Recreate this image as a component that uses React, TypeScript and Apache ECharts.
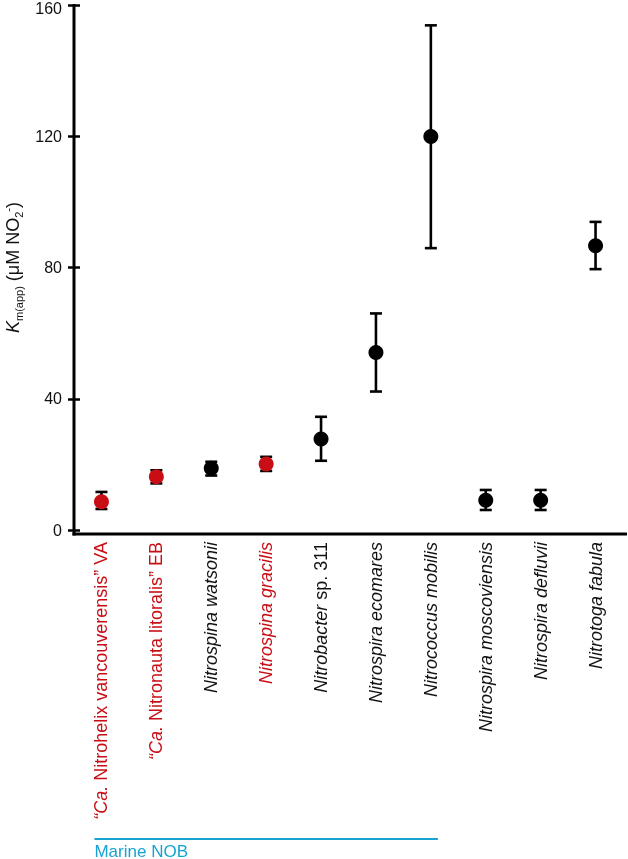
import React, { useEffect, useRef } from "react";
import * as echarts from "echarts";

const categories = [
  "Ca. Nitrohelix vancouverensis VA",
  "Ca. Nitronauta litoralis EB",
  "Nitrospina watsonii",
  "Nitrospina gracilis",
  "Nitrobacter sp. 311",
  "Nitrospira ecomares",
  "Nitrococcus mobilis",
  "Nitrospira moscoviensis",
  "Nitrospira defluvii",
  "Nitrotoga fabula",
];
// rich-text label pieces: [italic part, normal part]
const labelItalic = ["“Ca.", "“Ca.", "Nitrospina watsonii", "Nitrospina gracilis", "Nitrobacter", "Nitrospira ecomares", "Nitrococcus mobilis", "Nitrospira moscoviensis", "Nitrospira defluvii", "Nitrotoga fabula"];
const labelNormal = [" Nitrohelix vancouverensis” VA", " Nitronauta litoralis” EB", "", "", " sp. 311", "", "", "", "", ""];
const redLabel = [true, true, false, true, false, false, false, false, false, false];

const kmValues = [8.6, 16.2, 18.8, 20.1, 27.7, 54.1, 119.9, 9.1, 9.1, 86.6];
const kmLower = [6.4, 14.2, 16.6, 18.0, 21.1, 42.2, 85.9, 6.1, 6.1, 79.5];
const kmUpper = [11.6, 18.2, 20.8, 22.3, 34.5, 66.0, 153.8, 12.2, 12.2, 93.9];

const yTicks = [0, 40, 80, 120, 160];
const groupLabel = "Marine NOB";
const groupFrom = 0;
const groupTo = 6;

const RED = "#c80d14";
const BLUE = "#17a3d2";
const FONT = "'Liberation Sans', Arial, sans-serif";

export default function App() {
  const ref = useRef<HTMLDivElement>(null);
  useEffect(() => {
    if (!ref.current) return;
    const chart = echarts.init(ref.current, null, { renderer: "svg" });
    const gridLeft = 74;
    const gridTop = 5;
    const gridRight = 5;
    const gridBottom = 329;
    const yMax = yTicks[yTicks.length - 1];

    const option: any = {
      animation: false,
      grid: {
        left: gridLeft,
        right: gridRight,
        top: gridTop,
        bottom: gridBottom,
        containLabel: false,
        outerBoundsMode: "none",
      },
      xAxis: {
        type: "category",
        data: categories,
        boundaryGap: true,
        axisLine: { show: false },
        axisTick: { show: false },
        axisLabel: {
          interval: 0,
          rotate: 90,
          margin: 12,
          formatter: (_v: string, idx: number) => {
            const c = redLabel[idx] ? "r" : "b";
            let s = `{${c}i|${labelItalic[idx]}}`;
            if (labelNormal[idx]) s += `{${c}n|${labelNormal[idx]}}`;
            return s;
          },
          rich: {
            ri: { color: RED, fontStyle: "italic", fontSize: 18, fontFamily: FONT },
            rn: { color: RED, fontSize: 18, fontFamily: FONT },
            bi: { color: "#111", fontStyle: "italic", fontSize: 18, fontFamily: FONT },
            bn: { color: "#111", fontSize: 18, fontFamily: FONT },
          },
        },
      },
      yAxis: [
        {
          type: "value",
          min: yTicks[0],
          max: yMax,
          interval: 40,
          splitLine: { show: false },
          axisLine: { show: false },
          axisTick: { show: true, length: 6, lineStyle: { color: "#000", width: 2.5 } },
          axisLabel: {
            fontSize: 16,
            color: "#111",
            fontFamily: FONT,
            margin: 12,
            formatter: (v: number) => (v === yMax ? `{top|${v}}` : `{n|${v}}`),
            rich: {
              top: { fontSize: 16, color: "#111", fontFamily: FONT, padding: [7, 0, 0, 0] },
              n: { fontSize: 16, color: "#111", fontFamily: FONT },
            },
          },
          name: "{k|K}{sub|m(app)}{t| (μM NO}{sub2|2}{sup|-}{t|)}",
          nameLocation: "middle",
          nameRotate: 90,
          nameGap: 47,
          nameTextStyle: {
            fontFamily: FONT,
            color: "#111",
            rich: {
              k: { fontStyle: "italic", fontSize: 18, fontFamily: FONT, color: "#111", lineHeight: 22 },
              sub: { fontSize: 11, fontFamily: FONT, color: "#111", verticalAlign: "bottom", lineHeight: 12 },
              t: { fontSize: 18, fontFamily: FONT, color: "#111", lineHeight: 22 },
              sub2: { fontSize: 11, fontFamily: FONT, color: "#111", verticalAlign: "bottom", lineHeight: 12 },
              sup: { fontSize: 11, fontFamily: FONT, color: "#111", verticalAlign: "top", lineHeight: 12 },
            },
          },
        },
        {
          type: "value",
          position: "left",
          min: yTicks[0],
          max: yMax,
          interval: 40,
          splitLine: { show: false },
          axisLine: { show: false },
          axisTick: { show: true, inside: true, length: 6, lineStyle: { color: "#000", width: 2.5 } },
          axisLabel: { show: false },
        },
      ],
      series: [
        {
          type: "custom",
          z: 1,
          data: categories.map((_c, i) => [i, kmLower[i], kmUpper[i]]),
          renderItem: (_params: any, api: any) => {
            const x = api.value(0);
            const lo = api.coord([x, api.value(1)]);
            const hi = api.coord([x, api.value(2)]);
            const hw = 6;
            const st = { stroke: "#000", lineWidth: 2.6 };
            return {
              type: "group",
              children: [
                { type: "line", shape: { x1: hi[0], y1: hi[1], x2: lo[0], y2: lo[1] }, style: st },
                { type: "line", shape: { x1: hi[0] - hw, y1: hi[1], x2: hi[0] + hw, y2: hi[1] }, style: st },
                { type: "line", shape: { x1: lo[0] - hw, y1: lo[1], x2: lo[0] + hw, y2: lo[1] }, style: st },
              ],
            };
          },
        },
        {
          type: "scatter",
          z: 3,
          symbol: "circle",
          symbolSize: 15,
          data: kmValues.map((v, i) => ({
            value: [i, v],
            itemStyle: { color: redLabel[i] ? RED : "#000", opacity: 1 },
          })),
        },
      ],
    };
    chart.setOption(option);

    const h = 859;
    const axisY = h - gridBottom + 4;
    const x0 = chart.convertToPixel({ xAxisIndex: 0 }, groupFrom) as number;
    const x1 = chart.convertToPixel({ xAxisIndex: 0 }, groupTo) as number;
    chart.setOption({
      graphic: [
        { type: "line", shape: { x1: gridLeft, y1: gridTop - 1, x2: gridLeft, y2: axisY + 1.5 }, style: { stroke: "#000", lineWidth: 3 } },
        { type: "line", shape: { x1: gridLeft - 1.5, y1: axisY, x2: 627, y2: axisY }, style: { stroke: "#000", lineWidth: 3 } },
        { type: "line", shape: { x1: x0 - 7, y1: 839, x2: x1 + 7, y2: 839 }, style: { stroke: BLUE, lineWidth: 2 } },
        {
          type: "text",
          x: x0 - 7,
          y: 851,
          style: { text: groupLabel, fill: BLUE, fontSize: 17, lineHeight: 16, fontFamily: FONT, textVerticalAlign: "middle", textAlign: "left" },
        },
      ],
    });
    return () => chart.dispose();
  }, []);
  return <div ref={ref} style={{ position: "fixed", left: 0, top: 0, width: 628, height: 859 }} />;
}
